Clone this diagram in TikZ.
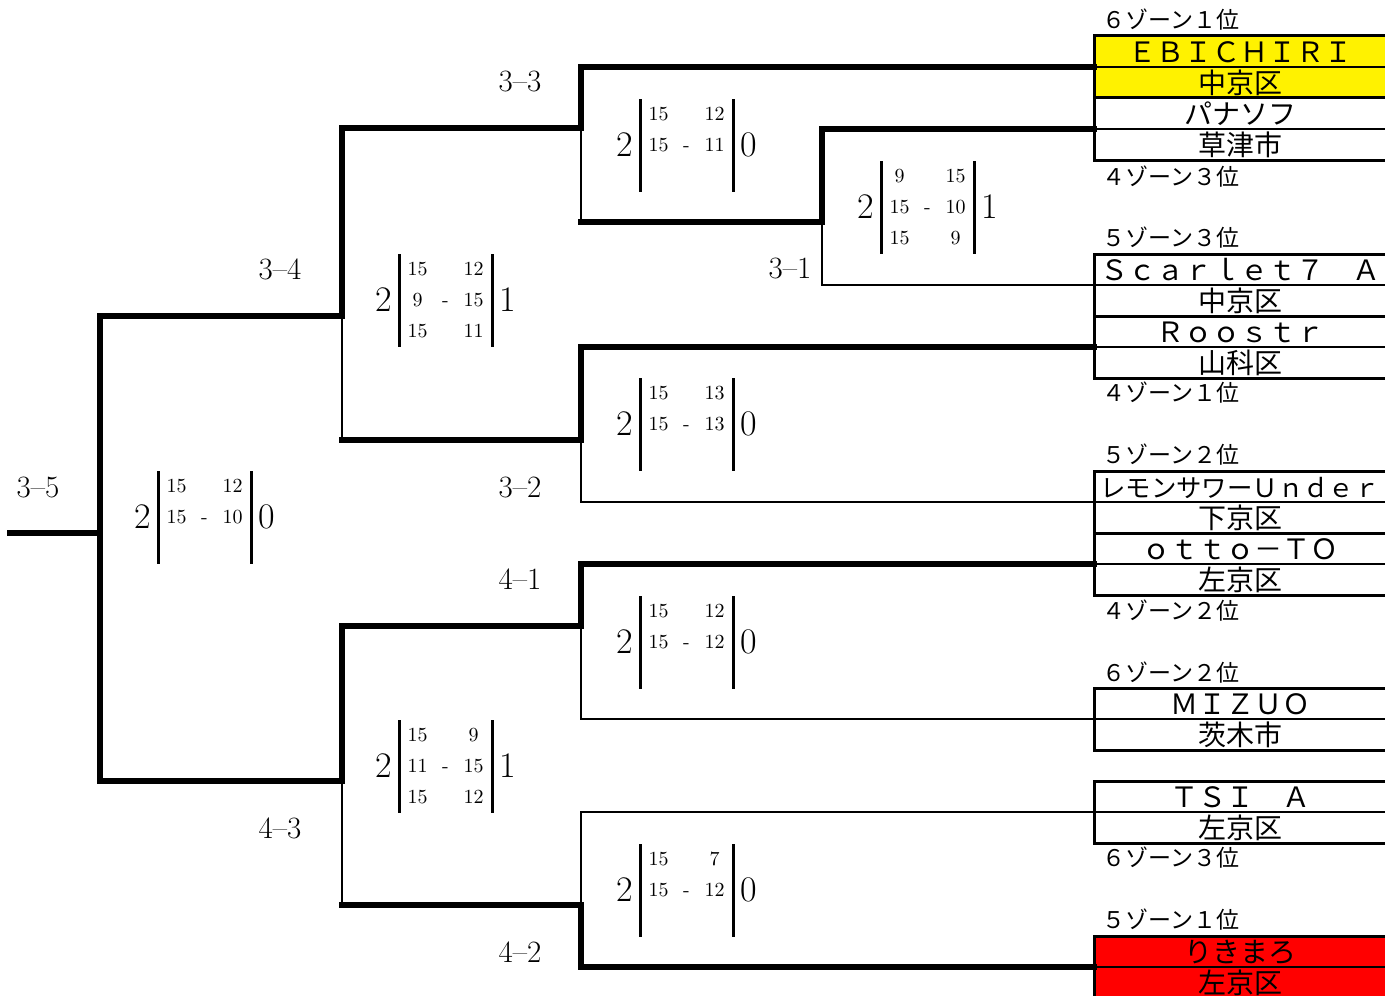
\documentclass[tikz,border=0pt]{standalone}
\usepackage{fontspec}
\usepackage{array}
\newfontfamily\jp{Noto Sans CJK JP}
\usetikzlibrary{positioning}

\newcommand{\matchscore}[3]{#1\hspace{2.5pt}{\fontsize{10}{15.5}\selectfont\setlength{\tabcolsep}{0pt}\raisebox{3.3pt}{\begin{tabular}{!{\vrule width 1.5pt}@{\hspace{3pt}}w{c}{11pt}w{c}{17pt}w{c}{11pt}@{\hspace{3pt}}!{\vrule width 1.5pt}}#3\end{tabular}}}\hspace{3pt}#2}

\begin{document}
\begin{tikzpicture}[x=0.5pt, y=-0.5pt,
	cell/.style={draw, line width=0.6pt, minimum width=146pt, minimum height=15.5pt, inner sep=0pt, outer sep=0pt, font=\jp\fontsize{14}{14}\selectfont, text height=12.3pt, text depth=1.7pt},
	zone/.style={anchor=west, inner sep=0pt, font=\jp\fontsize{11.5}{11.5}\selectfont},
	teambox/.style={line width=1.5pt},
	win/.style={line width=3pt, line cap=rect},
	lose/.style={line width=1.4pt},
	rnd/.style={inner sep=0pt, font=\fontsize{15.5}{15.5}\selectfont},
	score/.style={inner sep=0pt, font=\fontsize{18}{18}\selectfont}]
	\useasboundingbox (0,0) rectangle (1385,995);

	% teams
	\node (n1) [cell, fill=yellow] at (1240,51.5) {ＥＢＩＣＨＩＲＩ};
	\node (d1) [cell, fill=yellow, below=0pt of n1] {中京区};
	\node (n2) [cell] at (1240,113.5) {パナソフ};
	\node (d2) [cell, below=0pt of n2] {草津市};
	\node (n3) [cell] at (1240,269.5) {Ｓｃａｒｌｅｔ７　Ａ};
	\node (d3) [cell, below=0pt of n3] {中京区};
	\node (n4) [cell] at (1240,331.5) {Ｒｏｏｓｔｒ};
	\node (d4) [cell, below=0pt of n4] {山科区};
	\node (n5) [cell, font=\jp\fontsize{12.7}{12.7}\selectfont] at (1240,486.5) {レモンサワーＵｎｄｅｒ};
	\node (d5) [cell, below=0pt of n5] {下京区};
	\node (n6) [cell] at (1240,548.5) {ｏｔｔｏ－ＴＯ};
	\node (d6) [cell, below=0pt of n6] {左京区};
	\node (n7) [cell] at (1240,703.5) {ＭＩＺＵＯ};
	\node (d7) [cell, below=0pt of n7] {茨木市};
	\node (n8) [cell] at (1240,796.5) {ＴＳＩ　Ａ};
	\node (d8) [cell, below=0pt of n8] {左京区};
	\node (n9) [cell, fill=red] at (1240,951.5) {りきまろ};
	\node (d9) [cell, fill=red, below=0pt of n9] {左京区};
	\foreach \t in {1,...,9} {
		\draw [teambox] (n\t.north west) rectangle (d\t.south east);
	}

	% zones
	\node (z1) [zone] at (1102,20) {６ゾーン１位};
	\node (z2) [zone] at (1102,177) {４ゾーン３位};
	\node (z3) [zone] at (1102,238) {５ゾーン３位};
	\node (z4) [zone] at (1102,393) {４ゾーン１位};
	\node (z5) [zone] at (1102,455) {５ゾーン２位};
	\node (z6) [zone] at (1102,611) {４ゾーン２位};
	\node (z7) [zone] at (1102,673) {６ゾーン２位};
	\node (z8) [zone] at (1102,858) {６ゾーン３位};
	\node (z9) [zone] at (1102,920) {５ゾーン１位};

	% junctions
	\coordinate (q31) at (822,222);
	\coordinate (q33) at (581,128);
	\coordinate (q32) at (581,440);
	\coordinate (q34) at (342,316);
	\coordinate (q41) at (581,626);
	\coordinate (q42) at (581,905);
	\coordinate (q43) at (342,781);
	\coordinate (q35) at (100,533);
	\coordinate (champ) at (10,533);

	% bracket
	\draw [lose] (n3.south west) -| (q31);
	\draw [win] (n2.south west) -| (q31);
	\draw [lose] (q31 -| q33) -- (q33);
	\draw [win] (q31) -- (q31 -| q33);
	\draw [win] (n1.south west) -| (q33);
	\draw [lose] (n5.south west) -| (q32);
	\draw [win] (n4.south west) -| (q32);
	\draw [lose] (q32 -| q34) -- (q34);
	\draw [win] (q32) -- (q32 -| q34);
	\draw [win] (q33) -| (q34);
	\draw [lose] (n7.south west) -| (q41);
	\draw [win] (n6.south west) -| (q41);
	\draw [lose] (n8.south west) -| (q42);
	\draw [win] (n9.south west) -| (q42);
	\draw [lose] (q42 -| q43) -- (q43);
	\draw [win] (q42) -- (q42 -| q43);
	\draw [win] (q41) -| (q43);
	\draw [win] (q34) -| (q35);
	\draw [win] (q43) -| (q35);
	\draw [win] (q35) -- (champ);

	% rounds
	\node (r33) [rnd] at (520,82) {3--3};
	\node (r31) [rnd] at (790,269) {3--1};
	\node (r34) [rnd] at (280,269) {3--4};
	\node (r32) [rnd] at (520,487) {3--2};
	\node (r41) [rnd] at (520,579) {4--1};
	\node (r43) [rnd] at (280,828) {4--3};
	\node (r42) [rnd] at (520,952) {4--2};
	\node (r35) [rnd] at (38,487) {3--5};

	% scores
	\node (s33) [score] at (687,145) {\matchscore{2}{0}{15&&12\\15&-&11\\&&}};
	\node (s31) [score] at (928,207) {\matchscore{2}{1}{9&&15\\15&-&10\\15&&9}};
	\node (s34) [score] at (446,300) {\matchscore{2}{1}{15&&12\\9&-&15\\15&&11}};
	\node (s32) [score] at (687,424) {\matchscore{2}{0}{15&&13\\15&-&13\\&&}};
	\node (s35) [score] at (205,517) {\matchscore{2}{0}{15&&12\\15&-&10\\&&}};
	\node (s41) [score] at (687,642) {\matchscore{2}{0}{15&&12\\15&-&12\\&&}};
	\node (s43) [score] at (446,766) {\matchscore{2}{1}{15&&9\\11&-&15\\15&&12}};
	\node (s42) [score] at (687,890) {\matchscore{2}{0}{15&&7\\15&-&12\\&&}};
\end{tikzpicture}
\end{document}
